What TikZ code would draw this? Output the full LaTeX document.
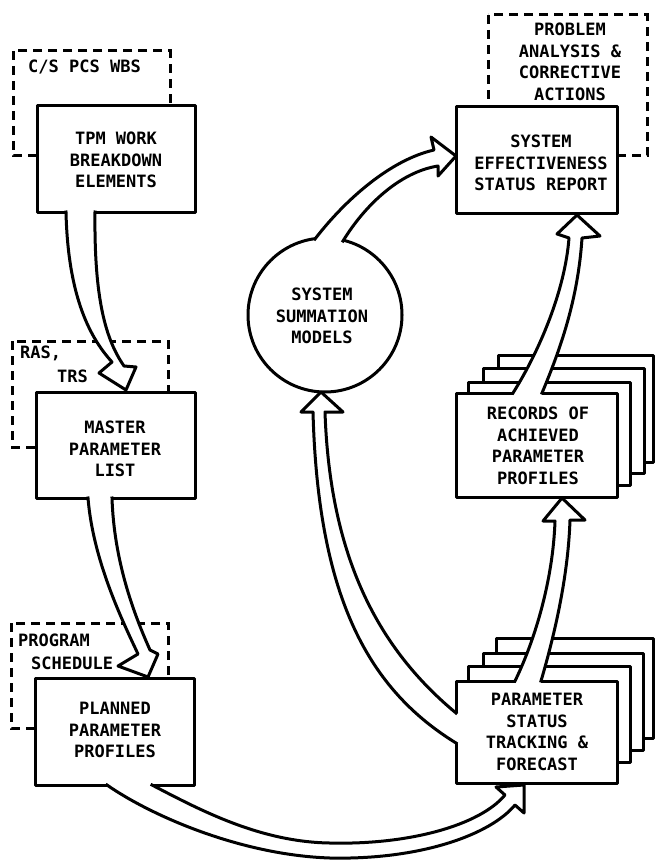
\documentclass[tikz,border=0pt]{standalone}
\usepackage{fontspec}
\newfontfamily\lettering{DejaVu Sans Mono Bold}
\begin{document}
\begin{tikzpicture}[x=1pt,y=-1pt,
  box/.style={draw, line width=3pt, fill=white, inner sep=0pt, line join=round},
  dashbox/.style={draw, line width=3pt, dash pattern=on 9pt off 6pt},
  txt/.style={font=\lettering\fontsize{17}{21.5}\selectfont, align=center, inner sep=0pt},
  ltxt/.style={font=\lettering\fontsize{17}{21.5}\selectfont, inner sep=0pt, anchor=west},
  aline/.style={line width=3pt, line join=round, line cap=rect},
]
\useasboundingbox (0,0) rectangle (655,861);

% dashed context boxes
\draw[dashbox] (13,51) rectangle (170,156);
\draw[dashbox] (12,341) rectangle (168,447);
\draw[dashbox] (11,623) rectangle (168,728);
\draw[dashbox] (488,15) rectangle (647,156);

% main boxes
\node[box, minimum width=158pt, minimum height=106pt] (tpm) at (116,159) {};
\node[box, minimum width=159pt, minimum height=106pt] (mpl) at (115.5,445) {};
\node[box, minimum width=159pt, minimum height=107pt] (ppp) at (114.5,731.5) {};
\node[box, minimum width=161pt, minimum height=106pt] (ser) at (536.5,160) {};

% stacked sheets: records
\draw[box] (498,355) rectangle (653,462);
\draw[box] (483,368) rectangle (644,473);
\draw[box] (468,382) rectangle (630,485);
\node[box, minimum width=161pt, minimum height=104pt] (rec) at (536.5,445) {};

% stacked sheets: tracking
\draw[box] (496,638) rectangle (653,738);
\draw[box] (483,653) rectangle (643,750);
\draw[box] (468,666) rectangle (630,762);
\node[box, minimum width=161pt, minimum height=102pt] (pst) at (536.5,732) {};

% circle
\node[box, circle, minimum size=154pt] (ssm) at (325,315) {};

% hollow arrows
\def\arrA{(66,212) .. controls (68,300) and (92,340) .. (112,362) -- (99,373) -- (126,390) -- (136,367) -- (124,366) .. controls (106,340) and (94,300) .. (95,212)}
\fill[white] \arrA -- (95,205) -- (66,205) -- cycle;
\draw[aline] \arrA;

\def\arrB{(88,498) .. controls (93,560) and (122,620) .. (138,654) -- (118,666) -- (148,677) -- (158,654) -- (150,650) .. controls (133,612) and (114,560) .. (112,498)}
\fill[white] \arrB -- (112,491) -- (88,491) -- cycle;
\draw[aline] \arrB;

\def\arrC{(107,785) .. controls (150,815) and (240,855) .. (330,858) .. controls (420,860) and (490,835) .. (515,805) -- (524,813) -- (524,785) -- (496,787) -- (505,795) .. controls (480,825) and (410,845) .. (330,843) .. controls (260,842) and (200,810) .. (152,785)}
\fill[white] \arrC -- (152,778) -- (107,778) -- cycle;
\draw[aline] \arrC;

\def\arrD{(515,681) .. controls (535,640) and (553,580) .. (555,521) -- (543,521) -- (562,498) -- (585,520) -- (570,520) .. controls (568,580) and (553,640) .. (541,681)}
\fill[white] \arrD -- (541,688) -- (515,688) -- cycle;
\draw[aline] \arrD;

\def\arrE{(513,393) .. controls (540,350) and (565,290) .. (569,238) -- (557,234) -- (577,215) -- (600,236) -- (582,238) .. controls (578,300) and (560,350) .. (542,393)}
\fill[white] \arrE -- (542,400) -- (513,400) -- cycle;
\draw[aline] \arrE;

\def\arrF{(456,743) .. controls (370,690) and (318,600) .. (313,412) -- (301,412) -- (321,392) -- (343,412) -- (325,412) .. controls (330,560) and (380,650) .. (456,713)}
\fill[white] \arrF -- (463,713) -- (463,743) -- cycle;
\draw[aline] \arrF;

\def\arrG{(315,239) .. controls (345,200) and (390,160) .. (434,150) -- (431,137) -- (456,156) -- (438,176) -- (438,166) .. controls (400,172) and (365,205) .. (343,241)}
\fill[white] \arrG -- (341,248) -- (317,247) -- cycle;
\draw[aline] \arrG;

% texts
\node[txt] (tpmt) at (116,160) {TPM WORK\\BREAKDOWN\\ELEMENTS};
\node[txt] (mplt) at (115,449) {MASTER\\PARAMETER\\LIST};
\node[txt] (pppt) at (115,730) {PLANNED\\PARAMETER\\PROFILES};
\node[txt] (sert) at (541,163) {SYSTEM\\EFFECTIVENESS\\STATUS REPORT};
\node[txt] (rect) at (538,446) {RECORDS OF\\ACHIEVED\\PARAMETER\\PROFILES};
\node[txt] (pstt) at (537,732) {PARAMETER\\STATUS\\TRACKING \&\\FORECAST};
\node[txt] (ssmt) at (322,316) {SYSTEM\\SUMMATION\\MODELS};
\node[ltxt] (cs) at (28,67) {C/S PCS WBS};
\node[ltxt] (ras) at (20,353) {RAS,};
\node[ltxt] (trs) at (57,376) {TRS};
\node[ltxt] (prog) at (18,640) {PROGRAM};
\node[ltxt] (sched) at (31,663) {SCHEDULE};
\node[txt] (pa) at (570,62) {PROBLEM\\ANALYSIS \&\\CORRECTIVE\\ACTIONS};
\end{tikzpicture}
\end{document}
